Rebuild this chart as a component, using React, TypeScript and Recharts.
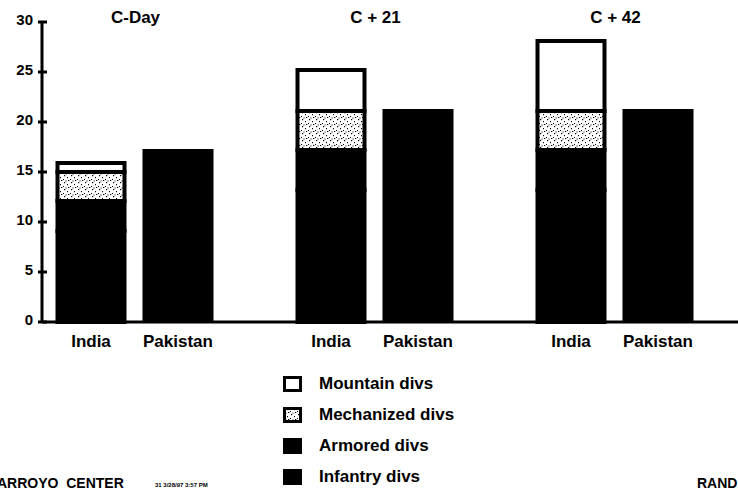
import { BarChart, Bar, XAxis, YAxis, Legend, LabelList } from "recharts";

// periods and division counts
const PERIODS = ["C-Day", "C + 21", "C + 42"];
const INFANTRY = [9.1, 13.2, 13.2];
const ARMORED = [3, 4, 4];
const MECHANIZED = [2.9, 3.9, 3.9];
const MOUNTAIN = [0.9, 4.1, 7.0];
const PAKISTAN = [17.3, 21.3, 21.3];
const Y_TICKS = [0, 5, 10, 15, 20, 25, 30];
const LEGEND_ORDER = ["mountain", "mechanized", "armored", "infantry"];

const data = PERIODS.map((period, i) => ({
  period,
  infantry: INFANTRY[i],
  armored: ARMORED[i],
  mechanized: MECHANIZED[i],
  mountain: MOUNTAIN[i],
  pakistan: PAKISTAN[i],
}));

const FONT = "'Liberation Sans', Arial, sans-serif";
const INK = "#000";

const YTick = ({ x, y, payload }: any) => (
  <g>
    <line x1={x + 4} x2={x + 13} y1={y} y2={y} stroke={INK} strokeWidth={3} />
    <text x={x - 1} y={y} dy={3} textAnchor="end" fontFamily={FONT} fontWeight="bold" fontSize={15} fill={INK}>
      {payload.value}
    </text>
  </g>
);

const TitleTick = ({ x, y, payload }: any) => (
  <text x={x} y={y} dy={1} textAnchor="middle" fontFamily={FONT} fontWeight="bold" fontSize={17} fill={INK}>
    {payload.value}
  </text>
);

const countryLabel = (name: string) => (props: any) => {
  const vb = props.viewBox ?? props;
  if (vb == null || vb.x == null) return null;
  return (
    <text
      x={vb.x + vb.width / 2}
      y={vb.y + vb.height + 25}
      textAnchor="middle"
      fontFamily={FONT}
      fontWeight="bold"
      fontSize={17}
      fill={INK}
    >
      {name}
    </text>
  );
};

const LegendContent = ({ payload }: any) => {
  const items = LEGEND_ORDER.map((k) => (payload ?? []).find((p: any) => p.dataKey === k)).filter(Boolean);
  return (
    <div style={{ height: 124 }}>
      {items.map((item: any) => (
        <div key={item.value} style={{ display: "flex", alignItems: "center", height: 31 }}>
          <svg width={19} height={16} style={{ marginRight: 17 }}>
            <rect x={1.5} y={1.5} width={16} height={13} fill={item.color} stroke={INK} strokeWidth={3} />
          </svg>
          <span style={{ fontFamily: FONT, fontWeight: "bold", fontSize: 17, color: INK }}>{item.value}</span>
        </div>
      ))}
    </div>
  );
};

export default function App() {
  return (
    <div style={{ position: "relative", width: 738, height: 493, overflow: "hidden", background: "#fff" }}>
      <style>{"body{margin:0}"}</style>
      <BarChart
        width={738}
        height={493}
        data={data}
        barGap={18}
        margin={{ top: 21, right: 0, bottom: 1, left: 0 }}
      >
        <defs>
          <pattern id="stipple" width="7" height="7" patternUnits="userSpaceOnUse">
            <rect width="7" height="7" fill="#fff" />
            <rect x="1" y="0" width="1.2" height="1.2" fill="#000" />
            <rect x="4" y="2" width="1" height="1.2" fill="#000" />
            <rect x="0" y="4" width="1" height="1" fill="#000" />
            <rect x="5" y="5" width="1.3" height="1" fill="#000" />
            <rect x="2.5" y="5.5" width="1" height="1" fill="#000" />
          </pattern>
        </defs>
        <XAxis
          dataKey="period"
          height={46}
          tick={false}
          tickLine={false}
          axisLine={{ stroke: INK, strokeWidth: 3 }}
          padding={{ left: -26.5, right: 2.5 }}
        />
        <XAxis
          xAxisId="top"
          orientation="top"
          dataKey="period"
          height={1}
          tickSize={0}
          tickMargin={0}
          axisLine={false}
          tickLine={false}
          tick={<TitleTick />}
          padding={{ left: -26.5, right: 2.5 }}
        />
        <YAxis
          width={42}
          domain={[0, 30]}
          ticks={Y_TICKS}
          interval={0}
          tickSize={0}
          tickMargin={8}
          tickLine={false}
          tick={<YTick />}
          axisLine={{ stroke: INK, strokeWidth: 3 }}
        />
        <Legend
          verticalAlign="bottom"
          content={<LegendContent />}
          wrapperStyle={{ left: 283, width: 260, height: 124 }}
        />
        <Bar dataKey="infantry" name="Infantry divs" stackId="india" barSize={67} fill={INK} stroke={INK} strokeWidth={4} isAnimationActive={false}>
          <LabelList dataKey="infantry" content={countryLabel("India")} />
        </Bar>
        <Bar dataKey="armored" name="Armored divs" stackId="india" barSize={67} fill={INK} stroke={INK} strokeWidth={4} isAnimationActive={false} />
        <Bar dataKey="mechanized" name="Mechanized divs" stackId="india" barSize={67} fill="url(#stipple)" stroke={INK} strokeWidth={4} isAnimationActive={false} />
        <Bar dataKey="mountain" name="Mountain divs" stackId="india" barSize={67} fill="#fff" stroke={INK} strokeWidth={4} isAnimationActive={false} />
        <Bar dataKey="pakistan" name="Pakistan" stackId="pak" barSize={71} fill={INK} legendType="none" isAnimationActive={false}>
          <LabelList dataKey="pakistan" content={countryLabel("Pakistan")} />
        </Bar>
      </BarChart>
      <div style={{ position: "absolute", left: -3, top: 475, fontFamily: FONT, fontWeight: "bold", fontSize: 14, whiteSpace: "pre" }}>
        ARROYO  CENTER
      </div>
      <div style={{ position: "absolute", left: 155, top: 482, fontFamily: FONT, fontWeight: "bold", fontSize: 6, whiteSpace: "pre" }}>
        31 3/28/97 3:57 PM
      </div>
      <div style={{ position: "absolute", left: 697, top: 475, fontFamily: FONT, fontWeight: "bold", fontSize: 14 }}>
        RAND
      </div>
    </div>
  );
}
